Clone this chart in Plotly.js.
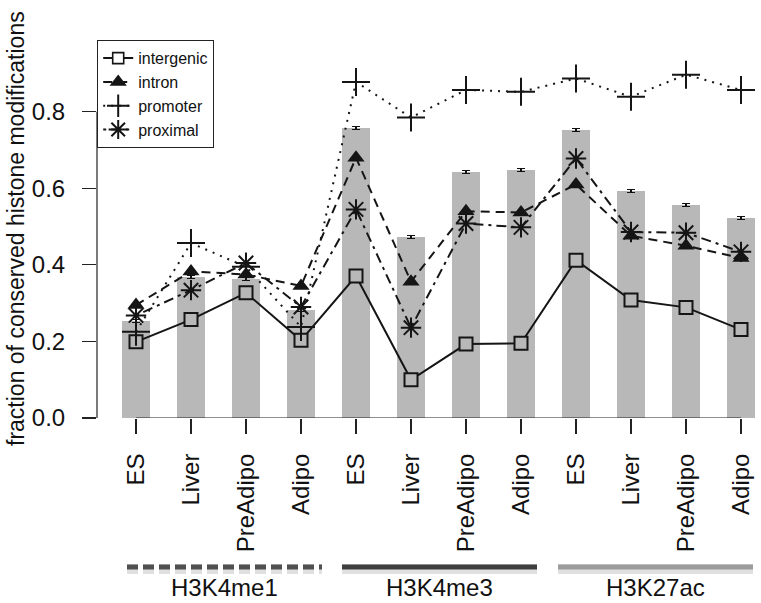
<!DOCTYPE html>
<html><head><meta charset="utf-8">
<script src="https://cdn.plot.ly/plotly-3.0.1.min.js"></script>
<style>html,body{margin:0;padding:0;background:#fff}#chart{width:761px;height:603px}</style>
</head><body><div id="chart"></div>
<script>
const categories = ['ES','Liver','PreAdipo','Adipo','ES','Liver','PreAdipo','Adipo','ES','Liver','PreAdipo','Adipo'];
const barVals = [0.254, 0.369, 0.363, 0.283, 0.758, 0.472, 0.643, 0.648, 0.752, 0.593, 0.556, 0.523];
const barErr  = [0.004, 0.004, 0.004, 0.004, 0.004, 0.004, 0.004, 0.004, 0.004, 0.004, 0.004, 0.004];
const intergenic = [0.199, 0.257, 0.327, 0.203, 0.371, 0.100, 0.193, 0.195, 0.412, 0.308, 0.289, 0.231];
const intron     = [0.295, 0.383, 0.375, 0.345, 0.680, 0.356, 0.540, 0.537, 0.610, 0.476, 0.450, 0.418];
const promoter   = [0.225, 0.457, 0.395, 0.238, 0.878, 0.785, 0.857, 0.852, 0.887, 0.839, 0.897, 0.857];
const proximal   = [0.268, 0.334, 0.405, 0.290, 0.545, 0.236, 0.508, 0.498, 0.678, 0.486, 0.484, 0.434];
const groupNames = ['H3K4me1', 'H3K4me3', 'H3K27ac'];
const yTicks = [0, 0.2, 0.4, 0.6, 0.8];

const xs = categories.map((c, i) => i + 1);
const FONT = 'Liberation Sans, Arial, sans-serif';
const W = 761, H = 603, ML = 97, MR = 4, MT = 0, MB = 185;
const PW = W - ML - MR, PH = H - MT - MB;
const pxX = p => (p - ML) / PW;
const pxY = p => 1 - (p - MT) / PH;
const INK = '#151515', BAR = '#b8b8b8';

const bars = {
  type: 'bar', x: xs, y: barVals, width: 0.51,
  marker: {color: BAR, line: {width: 0}},
  error_y: {type: 'data', array: barErr, visible: true, color: '#111', thickness: 1.2, width: 4},
  showlegend: false, hoverinfo: 'skip'
};
function line(name, ys, dash, sym, size, fill, mlw, rank, showleg) {
  return {
    type: 'scatter', mode: 'lines+markers', name: name, x: ys.length ? xs : [null], y: ys.length ? ys : [null],
    legendrank: rank, showlegend: showleg,
    line: {color: INK, width: 2, dash: dash},
    marker: {symbol: sym, size: size, color: fill, line: {color: INK, width: mlw}}
  };
}
const traces = [
  bars,
  line('intergenic', intergenic, 'solid', 'square', 13, BAR, 2, 1, false),
  line('intergenic', [], 'solid', 'square', 11, '#fff', 1.6, 1, true),
  line('intron', intron, '9px,6px', 'triangle-up', 15, INK, 0, 2, true),
  line('promoter', promoter, '2px,6px', 'cross-thin-open', 20, INK, 2, 3, true),
  line('proximal', proximal, '3px,5px,10px,5px', 'asterisk-open', 17, INK, 2, 4, true)
];

const shapes = [
  {type: 'line', xref: 'paper', yref: 'y', x0: 0, x1: 0, y0: 0, y1: 0.8, line: {color: '#222', width: 1.2}},
  {type: 'line', xref: 'x', yref: 'y', x0: 1, x1: 12, y0: 0, y1: 0, line: {color: '#222', width: 1.2}}
];
const grpPx = [[127, 322], [342, 537], [558, 753]];
const grpCol = ['#505050', '#3e3e3e', '#9c9c9c'];
const grpDash = ['11px,5px', 'solid', 'solid'];
const annotations = [];
groupNames.forEach((g, i) => {
  const [a, b] = grpPx[i];
  shapes.push({type: 'line', xref: 'paper', yref: 'paper', x0: pxX(a), x1: pxX(b), y0: pxY(569), y1: pxY(569),
    line: {color: 'rgba(0,0,0,0.12)', width: 10, dash: grpDash[i]}});
  shapes.push({type: 'line', xref: 'paper', yref: 'paper', x0: pxX(a), x1: pxX(b), y0: pxY(567), y1: pxY(567),
    line: {color: grpCol[i], width: 5, dash: grpDash[i]}});
  annotations.push({xref: 'paper', yref: 'paper', x: pxX((a + b) / 2), y: pxY(602), text: g, showarrow: false,
    xanchor: 'center', yanchor: 'bottom', borderpad: 0, font: {family: FONT, size: 24, color: '#111'}});
});
annotations.push({xref: 'paper', yref: 'paper', x: pxX(16), y: pxY(229), text: 'fraction of conserved histone modifications',
  textangle: -90, showarrow: false, xanchor: 'center', yanchor: 'middle', borderpad: 0, font: {family: FONT, size: 23, color: '#111'}});

const layout = {
  width: W, height: H, margin: {l: ML, r: MR, t: MT, b: MB},
  paper_bgcolor: '#fff', plot_bgcolor: '#fff',
  font: {family: FONT, color: '#111'},
  xaxis: {range: [0.291, 12.291], showgrid: false, zeroline: false, showline: false,
    tickvals: xs, ticktext: categories, tickangle: -90, ticks: 'outside', ticklen: 15, tickwidth: 1.2, tickcolor: '#222',
    ticklabelstandoff: 10, tickfont: {family: FONT, size: 24, color: '#111'}},
  yaxis: {range: [0, 1.092], showgrid: false, zeroline: false, showline: false,
    tickvals: yTicks, tickformat: '.1f', ticks: 'outside', ticklen: 14, tickwidth: 1.2, tickcolor: '#222',
    ticklabelstandoff: 12, tickfont: {family: FONT, size: 24, color: '#111'}},
  showlegend: true,
  legend: {x: 0, y: pxY(40), xanchor: 'left', yanchor: 'top', bgcolor: '#fff', bordercolor: '#222', borderwidth: 1.2,
    font: {family: FONT, size: 16, color: '#111'}, itemwidth: 30, tracegroupgap: 0, traceorder: 'normal'},
  bargap: 0, shapes: shapes, annotations: annotations
};
Plotly.newPlot('chart', traces, layout, {staticPlot: true, displayModeBar: false});
</script></body></html>
